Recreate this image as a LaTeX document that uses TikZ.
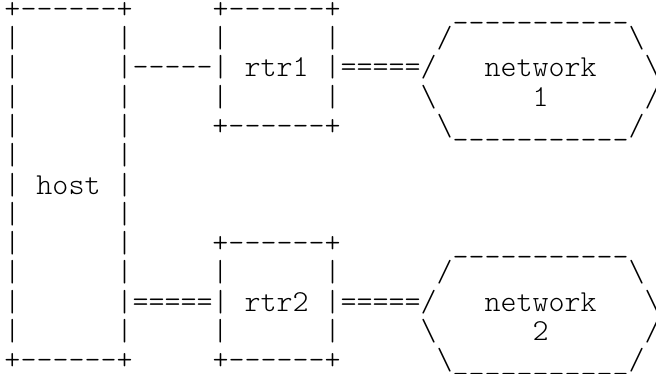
\documentclass[tikz,border=0pt]{standalone}
\usepackage{fontspec}
\setmonofont{Latin Modern Mono Light}

\tikzset{every picture/.style={line width=0.75pt}}
\tikzset{asciirow/.style={anchor=base west,inner sep=0pt,font=\fontsize{22.86}{26}\selectfont\ttfamily}}

\begin{document}
\begin{tikzpicture}[x=0.75pt,y=0.75pt,yscale=-1,xscale=1]
%set diagram left start at 0, and has height of 374
\useasboundingbox (0,0) rectangle (656,374);

% Text Node
\draw (4,18.5) node (row1) [asciirow] {+------+~~~~~+------+~~~~~~~\_\_\_\_\_\_\_\_\_\_\_};
% Text Node
\draw (4,47.75) node (row2) [asciirow] {|~~~~~~|~~~~~|~~~~~~|~~~~~~/~~~~~~~~~~~\textbackslash};
% Text Node
\draw (4,77) node (row3) [asciirow] {|~~~~~~|-----|~rtr1~|=====/~~~network~~~\textbackslash};
% Text Node
\draw (4,106.25) node (row4) [asciirow] {|~~~~~~|~~~~~|~~~~~~|~~~~~\textbackslash~~~~~~1~~~~~~/};
% Text Node
\draw (4,135.5) node (row5) [asciirow] {|~~~~~~|~~~~~+------+~~~~~~\textbackslash\_\_\_\_\_\_\_\_\_\_\_/};
% Text Node
\draw (4,164.75) node (row6) [asciirow] {|~~~~~~|};
% Text Node
\draw (4,194) node (row7) [asciirow] {|~host~|};
% Text Node
\draw (4,223.25) node (row8) [asciirow] {|~~~~~~|};
% Text Node
\draw (4,252.5) node (row9) [asciirow] {|~~~~~~|~~~~~+------+~~~~~~~\_\_\_\_\_\_\_\_\_\_\_};
% Text Node
\draw (4,281.75) node (row10) [asciirow] {|~~~~~~|~~~~~|~~~~~~|~~~~~~/~~~~~~~~~~~\textbackslash};
% Text Node
\draw (4,311) node (row11) [asciirow] {|~~~~~~|=====|~rtr2~|=====/~~~network~~~\textbackslash};
% Text Node
\draw (4,340.25) node (row12) [asciirow] {|~~~~~~|~~~~~|~~~~~~|~~~~~\textbackslash~~~~~~2~~~~~~/};
% Text Node
\draw (4,369.5) node (row13) [asciirow] {+------+~~~~~+------+~~~~~~\textbackslash\_\_\_\_\_\_\_\_\_\_\_/};

\end{tikzpicture}
\end{document}
